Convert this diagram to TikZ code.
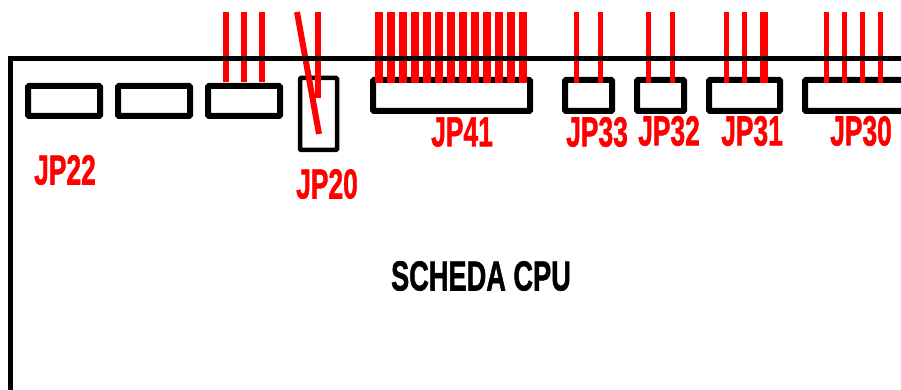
\documentclass[tikz,border=0pt]{standalone}
\usepackage{graphicx}
\usepackage{fontspec}
\setmainfont[BoldFeatures={FakeBold=1.5}]{Liberation Sans}
\definecolor{wirered}{RGB}{255,0,0}
\newcommand{\narrowlabel}[2]{\scalebox{#1}[1.05]{\fontsize{40}{40}\selectfont\bfseries #2}}
\tikzset{
  conn/.style={draw=black,line width=6pt,rounded corners=1pt,inner sep=0pt,outer sep=0pt,fill=white},
  wire/.style={draw=wirered,line width=5.5pt},
  fatwire/.style={draw=wirered,line width=8pt},
  jplabel/.style={text=wirered,inner sep=0pt},
  cpulabel/.style={text=black,inner sep=0pt}
}
\begin{document}
\begin{tikzpicture}[x=1pt,y=-1pt]
\useasboundingbox (0,0) rectangle (901,390);
\clip (0,0) rectangle (901,390);
% connectors
\node[conn,minimum width=72pt,minimum height=30pt] (b22) at (64,101) {};
\node[conn,minimum width=72pt,minimum height=30pt] (b21) at (154,101) {};
\node[conn,minimum width=72pt,minimum height=30pt] (b23) at (244,101) {};
\node[conn,line width=4.5pt,minimum width=37pt,minimum height=72pt] (b20) at (318.5,114) {};
\node[conn,minimum width=157pt,minimum height=31pt] (b41) at (451.5,95.5) {};
\node[conn,minimum width=47pt,minimum height=31pt] (b33) at (588.5,95.5) {};
\node[conn,minimum width=47pt,minimum height=31pt] (b32) at (660.5,95.5) {};
\node[conn,minimum width=71pt,minimum height=31pt] (b31) at (744.5,95.5) {};
\node[conn,minimum width=120pt,minimum height=31pt] (b30) at (865,95.5) {};
% wires
\foreach \x in {226,244,262} \draw[wire] (\x,12) -- (\x,82);
\coordinate (d20top) at (297,12);
\coordinate (d20end) at (319,134);
\coordinate (s20top) at (318,12);
\coordinate (s20end) at (318,98);
\draw[wire,line width=6pt] (d20top) -- (d20end);
\draw[wire] (s20top) -- (s20end);
\foreach \i in {0,...,12} \draw[fatwire] (379.3+12*\i,12) -- (379.3+12*\i,83);
\foreach \x in {576.7,600.7,648.5,672.5,726.7,744.7,826.7,844.7,862.7,880.7} \draw[wire] (\x,12) -- (\x,83);
\draw[fatwire] (763.5,12) -- (763.5,83);
% frame
\coordinate (fa) at (10,390);
\coordinate (fb) at (10,59);
\coordinate (fc) at (901,59);
\draw[black,line width=5pt,miter limit=10] (fa) -- (fb) -- (fc);
% labels
\node[jplabel] (l22) at (65,170) {\narrowlabel{.66}{JP22}};
\node[jplabel] (l20) at (327,184) {\narrowlabel{.66}{JP20}};
\node[jplabel] (l41) at (462,132) {\narrowlabel{.66}{JP41}};
\node[jplabel] (l33) at (597,132) {\narrowlabel{.66}{JP33}};
\node[jplabel] (l32) at (669,131) {\narrowlabel{.66}{JP32}};
\node[jplabel] (l31) at (752,131) {\narrowlabel{.66}{JP31}};
\node[jplabel] (l30) at (861,131) {\narrowlabel{.66}{JP30}};
\node[cpulabel] (cpu) at (481,276) {\narrowlabel{.68}{SCHEDA CPU}};
\end{tikzpicture}
\end{document}
